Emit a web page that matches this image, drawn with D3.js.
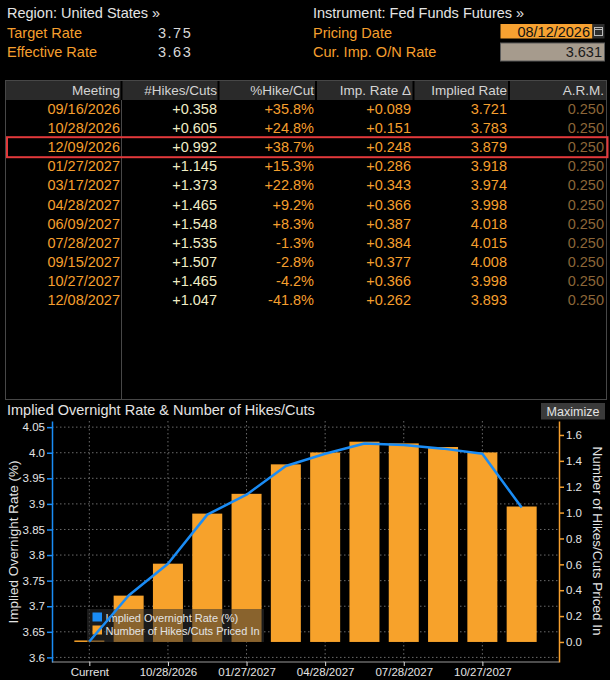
<!DOCTYPE html>
<html>
<head>
<meta charset="utf-8">
<script src="https://cdn.jsdelivr.net/npm/d3@7"></script>
<style>
  body { margin: 0; background: #000; }
  svg { display: block; font-family: "Liberation Sans", Arial, sans-serif; }
</style>
</head>
<body>
<svg id="chart" width="610" height="680"></svg>
<script>
// header values
const targetRate = 3.75;
const effectiveRate = 3.63;
const pricingDate = "08/12/2026";
const currentRate = 3.631;

// table data, one entry per FOMC meeting
const meetings = ["09/16/2026", "10/28/2026", "12/09/2026", "01/27/2027", "03/17/2027", "04/28/2027",
                  "06/09/2027", "07/28/2027", "09/15/2027", "10/27/2027", "12/08/2027"];
const hikes = [0.358, 0.605, 0.992, 1.145, 1.373, 1.465, 1.548, 1.535, 1.507, 1.465, 1.047];
const pctHike = [35.8, 24.8, 38.7, 15.3, 22.8, 9.2, 8.3, -1.3, -2.8, -4.2, -41.8];
const rateDelta = [0.089, 0.151, 0.248, 0.286, 0.343, 0.366, 0.387, 0.384, 0.377, 0.366, 0.262];
const impliedRate = [3.721, 3.783, 3.879, 3.918, 3.974, 3.998, 4.018, 4.015, 4.008, 3.998, 3.893];
const arm = [0.25, 0.25, 0.25, 0.25, 0.25, 0.25, 0.25, 0.25, 0.25, 0.25, 0.25];
const highlighted = "12/09/2026";

// chart series (first point is the current rate)
const chartCategories = ["Current"].concat(meetings);
const chartRates = [currentRate].concat(impliedRate);
const chartHikes = [0].concat(hikes);
const xTickLabels = ["Current", "10/28/2026", "01/27/2027", "04/28/2027", "07/28/2027", "10/27/2027"];
const leftTicks = [3.6, 3.65, 3.7, 3.75, 3.8, 3.85, 3.9, 3.95, 4.0, 4.05];
const rightTicks = [0, 0.2, 0.4, 0.6, 0.8, 1.0, 1.2, 1.4, 1.6];

const ORANGE = "#f59f2e";
const LIGHT = "#e4e4e4";
const locale = d3.formatLocale({ decimal: ".", thousands: ",", grouping: [3], currency: ["$", ""], minus: "-" });

const svg = d3.select("#chart");
svg.append("rect").attr("width", 610).attr("height", 680).attr("fill", "#000");

// ---- top info block
const info = svg.append("g").attr("font-size", 14.5).attr("dominant-baseline", "central");
info.append("text").attr("x", 7).attr("y", 13).attr("fill", LIGHT).text("Region: United States \u00bb");
info.append("text").attr("x", 7).attr("y", 32.5).attr("fill", ORANGE).text("Target Rate");
info.append("text").attr("x", 7).attr("y", 51.5).attr("fill", ORANGE).text("Effective Rate");
info.append("text").attr("x", 158).attr("y", 32.5).attr("fill", "#d8d8d8").attr("letter-spacing", 1.5).text(targetRate.toFixed(2));
info.append("text").attr("x", 158).attr("y", 51.5).attr("fill", "#d8d8d8").attr("letter-spacing", 1.5).text(effectiveRate.toFixed(2));
info.append("text").attr("x", 313).attr("y", 13).attr("fill", LIGHT).text("Instrument: Fed Funds Futures \u00bb");
info.append("text").attr("x", 313).attr("y", 32.5).attr("fill", ORANGE).text("Pricing Date");
info.append("text").attr("x", 313).attr("y", 51.5).attr("fill", ORANGE).text("Cur. Imp. O/N Rate");

info.append("rect").attr("x", 500.5).attr("y", 24).attr("width", 92).attr("height", 14.5).attr("fill", "#f7a131");
info.append("text").attr("x", 590).attr("y", 31.5).attr("text-anchor", "end").attr("fill", "#111").text(pricingDate);
info.append("rect").attr("x", 592.5).attr("y", 24).attr("width", 12).attr("height", 14.5).attr("fill", "#2e2e2e");
info.append("rect").attr("x", 594.5).attr("y", 27.5).attr("width", 8).attr("height", 8)
  .attr("fill", "none").attr("stroke", "#bbb").attr("stroke-width", 1);
info.append("line").attr("x1", 594.5).attr("x2", 602.5).attr("y1", 29.5).attr("y2", 29.5).attr("stroke", "#bbb");
info.append("rect").attr("x", 500.5).attr("y", 43).attr("width", 104).attr("height", 18)
  .attr("fill", "#a69b8d").attr("stroke", "#5a5a5a");
info.append("text").attr("x", 602).attr("y", 52).attr("text-anchor", "end").attr("fill", "#1a1a1a").text(currentRate.toFixed(3));

// ---- table
const colRight = [120, 217, 314, 411, 507, 604];
const colSep = [121.5, 218.5, 316, 413.5, 509];
const headers = ["Meeting", "#Hikes/Cuts", "%Hike/Cut", "Imp. Rate \u0394", "Implied Rate", "A.R.M."];
const rowY = i => 109 + i * 19.1;

const table = svg.append("g");
table.append("rect").attr("x", 5.5).attr("y", 80.5).attr("width", 601).attr("height", 319)
  .attr("fill", "none").attr("stroke", "#474747");
table.append("rect").attr("x", 6).attr("y", 81).attr("width", 600).attr("height", 19).attr("fill", "#2a2a2a");
table.selectAll(".hsep").data(colSep).join("line")
  .attr("x1", d => d).attr("x2", d => d).attr("y1", 81).attr("y2", 100)
  .attr("stroke", "#000").attr("stroke-width", 2);
table.append("line").attr("x1", 121.5).attr("x2", 121.5).attr("y1", 100).attr("y2", 399.5).attr("stroke", "#474747");
table.selectAll(".hd").data(headers).join("text")
  .attr("x", (d, i) => colRight[i]).attr("y", 90.5)
  .attr("text-anchor", "end").attr("dominant-baseline", "central")
  .attr("font-size", 13.5).attr("fill", "#d4d4d4").text(d => d);

const fmtHike = locale.format("+.3f");
const fmtPct = locale.format("+.1f");
const fmtRate = locale.format(".3f");
const rows = meetings.map((m, i) => [
  { t: m, c: ORANGE },
  { t: fmtHike(hikes[i]), c: "#f1edc6" },
  { t: fmtPct(pctHike[i]) + "%", c: ORANGE },
  { t: fmtHike(rateDelta[i]), c: ORANGE },
  { t: fmtRate(impliedRate[i]), c: ORANGE },
  { t: fmtRate(arm[i]), c: "#8c6638" }
]);
const rowG = table.selectAll(".row").data(rows).join("g")
  .attr("transform", (d, i) => `translate(0,${rowY(i)})`);
rowG.selectAll("text").data(d => d).join("text")
  .attr("x", (d, j) => colRight[j]).attr("y", 0)
  .attr("text-anchor", "end").attr("dominant-baseline", "central")
  .attr("font-size", 14.5).attr("fill", d => d.c).text(d => d.t);

const hi = meetings.indexOf(highlighted);
table.append("rect").attr("x", 7).attr("y", rowY(hi) - 10).attr("width", 600.5).attr("height", 20)
  .attr("fill", "none").attr("stroke", "#e2393b").attr("stroke-width", 2);

// ---- chart panel
svg.append("text").attr("x", 7).attr("y", 410).attr("dominant-baseline", "central")
  .attr("font-size", 14.5).attr("fill", LIGHT).text("Implied Overnight Rate & Number of Hikes/Cuts");
svg.append("rect").attr("x", 541).attr("y", 403).attr("width", 64).attr("height", 16.5).attr("fill", "#3a3a3a");
svg.append("text").attr("x", 573).attr("y", 411.5).attr("text-anchor", "middle").attr("dominant-baseline", "central")
  .attr("font-size", 12.5).attr("fill", LIGHT).text("Maximize");

const x0 = 52, x1 = 559, yTop = 421, yBot = 662;
const x = d3.scalePoint().domain(chartCategories).range([x0, x1]).padding(0.95);
const yL = d3.scaleLinear().domain([3.591, 4.062]).range([yBot, yTop]);
const yR = d3.scaleLinear().domain([-0.155, 1.708]).range([yBot, yTop]);
const barW = 30;

const grid = svg.append("g").attr("stroke", "#6a6a6a").attr("stroke-dasharray", "1.5,2.5");
grid.selectAll(".gh").data(leftTicks).join("line")
  .attr("x1", x0).attr("x2", x1).attr("y1", d => yL(d)).attr("y2", d => yL(d));
grid.selectAll(".gv").data(xTickLabels).join("line")
  .attr("x1", d => x(d)).attr("x2", d => x(d)).attr("y1", yTop).attr("y2", yBot);

// bars: hikes priced in, right axis
svg.append("g").selectAll("rect").data(chartCategories).join("rect")
  .attr("x", d => x(d) - barW / 2)
  .attr("width", barW)
  .attr("y", (d, i) => Math.min(yR(chartHikes[i]), yR(0) - 1.5))
  .attr("height", (d, i) => Math.max(yR(0) - yR(chartHikes[i]), 1.5))
  .attr("fill", "#f7a22b");

// legend (translucent, sits over the bars)
const lg = svg.append("g");
lg.append("rect").attr("x", 87).attr("y", 609).attr("width", 177).attr("height", 33)
  .attr("fill", "rgb(48,48,48)").attr("fill-opacity", 0.55);
lg.append("rect").attr("x", 92.5).attr("y", 612.5).attr("width", 9.5).attr("height", 9).attr("fill", "#1a8cf5");
lg.append("rect").attr("x", 92.5).attr("y", 625.5).attr("width", 9.5).attr("height", 9).attr("fill", "#f7a22b");
lg.append("text").attr("x", 105.5).attr("y", 617.5).attr("dominant-baseline", "central")
  .attr("font-size", 11).attr("fill", LIGHT).text("Implied Overnight Rate (%)");
lg.append("text").attr("x", 105.5).attr("y", 630.5).attr("dominant-baseline", "central")
  .attr("font-size", 11).attr("fill", LIGHT).text("Number of Hikes/Cuts Priced In");

// line: implied rate, left axis
const line = d3.line().x((d, i) => x(chartCategories[i])).y(d => yL(d));
svg.append("path").datum(chartRates).attr("d", line)
  .attr("fill", "none").attr("stroke", "#1a8cf5").attr("stroke-width", 2.5).attr("stroke-linejoin", "round");

// axes
const fmtLeft = d => (Math.round(d * 100) % 10 === 0 ? d.toFixed(1) : d.toFixed(2));
const gL = svg.append("g").attr("transform", `translate(${x0},0)`)
  .call(d3.axisLeft(yL).tickValues(leftTicks).tickFormat(fmtLeft).tickSize(5).tickSizeOuter(0).tickPadding(2));
gL.select(".domain").attr("stroke", "#1a8cf5").attr("stroke-width", 1.5);
gL.selectAll(".tick line").attr("stroke", "#1a8cf5").attr("stroke-width", 1.5);

const gR = svg.append("g").attr("transform", `translate(${x1},0)`)
  .call(d3.axisRight(yR).tickValues(rightTicks).tickFormat(d => d.toFixed(1)).tickSize(5).tickSizeOuter(0).tickPadding(2));
gR.select(".domain").attr("stroke", "#f59f2e").attr("stroke-width", 1.5);
gR.selectAll(".tick line").attr("stroke", "#f59f2e").attr("stroke-width", 1.5);

const gB = svg.append("g").attr("transform", `translate(0,${yBot})`)
  .call(d3.axisBottom(x).tickValues(xTickLabels).tickSize(4).tickSizeOuter(0).tickPadding(2));
gB.select(".domain").attr("stroke", "#9a9a9a").attr("d", `M${x0},0H${x1}`);
gB.selectAll(".tick line").attr("stroke", "#ddd");

[gL, gR, gB].forEach(g => g.selectAll(".tick text")
  .attr("fill", LIGHT).attr("font-size", 11.5).attr("font-family", "Liberation Sans, Arial, sans-serif"));

// axis titles
svg.append("text").attr("transform", "translate(13,542) rotate(-90)")
  .attr("text-anchor", "middle").attr("dominant-baseline", "central")
  .attr("font-size", 13.5).attr("fill", LIGHT).text("Implied Overnight Rate (%)");
svg.append("text").attr("transform", "translate(597,541) rotate(90)")
  .attr("text-anchor", "middle").attr("dominant-baseline", "central")
  .attr("font-size", 13.5).attr("fill", LIGHT).text("Number of Hikes/Cuts Priced In");
</script>
</body>
</html>
